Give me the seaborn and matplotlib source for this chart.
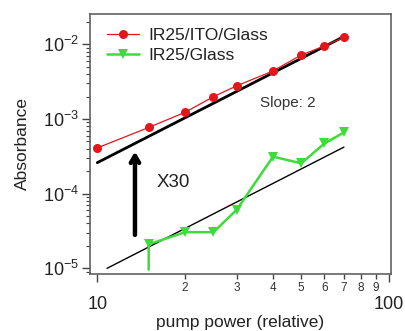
import numpy as np
import pandas as pd
import matplotlib
matplotlib.use("Agg")
import matplotlib.pyplot as plt
import matplotlib.ticker as mticker
import seaborn as sns

# ---- data ----
power = [10, 15, 20, 25, 30, 40, 50, 60, 70]
abs_ito = [4.1e-4, 7.7e-4, 1.23e-3, 1.99e-3, 2.77e-3, 4.4e-3, 7.2e-3, 9.5e-3, 1.24e-2]

power_glass = [15, 15, 20, 25, 30, 40, 50, 60, 70]
abs_glass = [9.6e-6, 2.1e-5, 3.05e-5, 3.05e-5, 6.05e-5, 3.13e-4, 2.55e-4, 4.7e-4, 6.6e-4]

fit_ito_x = [10, 70]
fit_ito_y = [2.6e-4, 1.27e-2]
fit_glass_x = [10.8, 70]
fit_glass_y = [1.0e-5, 4.2e-4]

x_major = [10, 100]
x_major_labels = ["10", "100"]
x_minor = [20, 30, 40, 50, 60, 70, 80, 90]
x_minor_labels = ["2", "3", "4", "5", "6", "7", "8", "9"]

series_names = ["IR25/ITO/Glass", "IR25/Glass"]

# ---- style ----
sns.set_style("ticks")
plt.rcParams["font.family"] = ["Liberation Sans", "DejaVu Sans"]
plt.rcParams["mathtext.fontset"] = "custom"
plt.rcParams["mathtext.rm"] = "Liberation Sans"
plt.rcParams["mathtext.it"] = "Liberation Sans"
plt.rcParams["mathtext.default"] = "regular"

RED = "#e3161b"
GREEN = "#3ddc3a"

fig = plt.figure(figsize=(4.06, 3.31), dpi=100)
ax = fig.add_axes([90 / 406, 1 - 274 / 331, 301 / 406, 260 / 331])

df_ito = pd.DataFrame({"power": power, "absorbance": abs_ito})
df_glass = pd.DataFrame({"power": power_glass, "absorbance": abs_glass})
df_fit1 = pd.DataFrame({"power": fit_ito_x, "absorbance": fit_ito_y})
df_fit2 = pd.DataFrame({"power": fit_glass_x, "absorbance": fit_glass_y})

sns.lineplot(data=df_fit2, x="power", y="absorbance", ax=ax, color="black",
             lw=1.0, sort=False, estimator=None, zorder=2)
sns.lineplot(data=df_fit1, x="power", y="absorbance", ax=ax, color="black",
             lw=2.0, sort=False, estimator=None, zorder=3)
sns.lineplot(data=df_ito, x="power", y="absorbance", ax=ax, color=RED,
             lw=0.9, marker="o", markersize=6.5, markeredgewidth=0,
             sort=False, estimator=None, label=series_names[0], zorder=4)
sns.lineplot(data=df_glass, x="power", y="absorbance", ax=ax, color=GREEN,
             lw=1.8, marker="v", markersize=7.5, markeredgewidth=0,
             markevery=list(range(1, len(power_glass))),
             sort=False, estimator=None, label=series_names[1], zorder=4)

ax.set_xscale("log")
ax.set_yscale("log")
ax.set_xlim(9.44, 101.5)
ax.set_ylim(10 ** -5.076, 10 ** -1.594)

ax.xaxis.set_major_locator(mticker.FixedLocator(x_major))
ax.xaxis.set_major_formatter(mticker.FixedFormatter(x_major_labels))
ax.xaxis.set_minor_locator(mticker.FixedLocator(x_minor))
ax.xaxis.set_minor_formatter(mticker.FixedFormatter(x_minor_labels))

ax.yaxis.set_major_locator(mticker.LogLocator(base=10, numticks=10))
ax.yaxis.set_minor_locator(mticker.LogLocator(base=10, subs=np.arange(2, 10), numticks=10))
ax.yaxis.set_minor_formatter(mticker.NullFormatter())

ax.tick_params(axis="x", which="major", direction="out", length=6, width=1,
               labelsize=13, pad=10, color="#444", labelcolor="#222")
ax.tick_params(axis="x", which="minor", direction="out", length=3.5, width=1,
               labelsize=8.5, pad=2, color="#444", labelcolor="#333")
ax.tick_params(axis="y", which="major", direction="out", length=6, width=1,
               labelsize=13, pad=2, color="#444", labelcolor="#222")
ax.tick_params(axis="y", which="minor", direction="out", length=3, width=0.8,
               color="#444")

for s in ax.spines.values():
    s.set_color("#555")
    s.set_linewidth(1.1)

ax.set_xlabel("pump power (relative)", fontsize=12.5, color="#222", labelpad=1)
ax.set_ylabel("Absorbance", fontsize=12.5, color="#222", labelpad=9)

leg = ax.legend(loc="upper left", bbox_to_anchor=(0.056, 0.946), frameon=False,
                fontsize=12.5, borderpad=0, borderaxespad=0, handlelength=1.85,
                handletextpad=0.55, labelspacing=0.25)
for t in leg.get_texts():
    t.set_color("#222")

ax.text(45, 1.62e-3, "Slope: 2", fontsize=11, color="#333", ha="center", va="center")
ax.text(16.0, 1.4e-4, "X30", fontsize=13.5, color="#222", ha="left", va="center")
ax.annotate("", xy=(13.46, 3.65e-4), xytext=(13.46, 2.8e-5),
            arrowprops=dict(arrowstyle="->,head_length=0.5,head_width=0.3",
                            lw=3.2, color="black", shrinkA=0, shrinkB=0))

fig.savefig("out.png", dpi=100)
